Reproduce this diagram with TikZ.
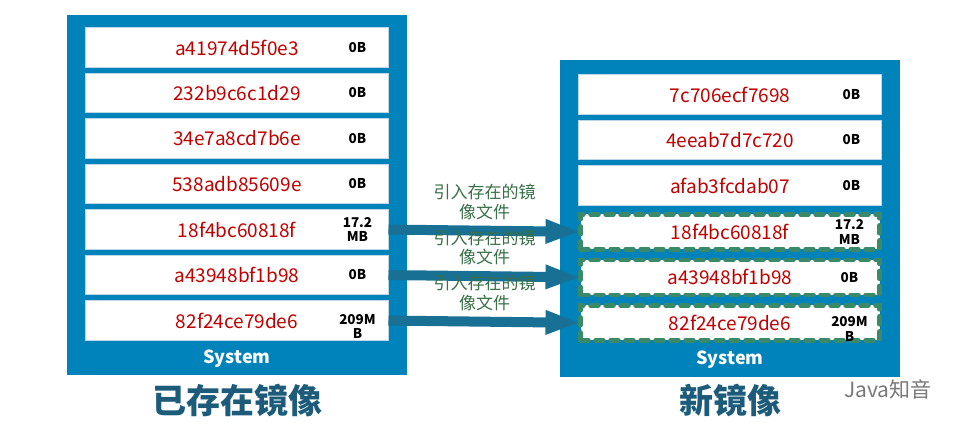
\documentclass[tikz,border=0pt]{standalone}
\usepackage{fontspec}
\setmainfont{Noto Sans CJK SC}
\usepackage{xcolor}
\usepackage{tikz}
\usetikzlibrary{
  arrows.meta,
  positioning,
  calc
}

\definecolor{boxblue}{RGB}{0,130,186}
\definecolor{rowedge}{RGB}{190,215,230}
\definecolor{hashred}{RGB}{192,0,0}
\definecolor{dashgreen}{RGB}{58,138,106}
\definecolor{arrowblue}{RGB}{24,112,148}
\definecolor{notegreen}{RGB}{56,112,72}
\definecolor{titleteal}{RGB}{28,92,122}
\definecolor{markgray}{RGB}{120,120,120}

\tikzset{
  imgbox/.style={fill=boxblue, minimum width=340pt, inner sep=0pt},
  layerbox/.style={draw=rowedge, fill=white, line width=0.8pt, minimum width=303pt,
    minimum height=39.5pt, inner sep=0pt, outer sep=0pt, text=hashred, font=\fontsize{19}{20}\selectfont},
  sharedbox/.style={layerbox, draw=dashgreen, line width=4.5pt, dash pattern=on 8pt off 7pt,
    line cap=round, minimum width=299pt, minimum height=35pt},
  sizetag/.style={font=\bfseries\fontsize{13.5}{14.5}\selectfont, align=center, inner sep=0pt},
  systag/.style={text=white, font=\bfseries\fontsize{18}{20}\selectfont, inner sep=0pt},
  titletag/.style={text=titleteal, font=\bfseries\fontsize{34}{36}\selectfont, inner sep=0pt},
  copyarrow/.style={draw=arrowblue, line width=10pt, -{Triangle[length=35pt 0,width=22pt 0]}},
  copynote/.style={text=notegreen, align=center, inner sep=0pt, font=\fontsize{17}{19.5}\selectfont}
}

\begin{document}
\begin{tikzpicture}[x=1pt,y=-1pt]
  \useasboundingbox[fill=white] (0,0) rectangle (970,432);

  % existing image
  \node[imgbox, minimum height=360pt] (oldimg) at (237,195) {};
  \node[layerbox, below=13pt of oldimg.north] (L1) {a41974d5f0e3};
  \node[layerbox, below=6pt of L1] (L2) {232b9c6c1d29};
  \node[layerbox, below=6pt of L2] (L3) {34e7a8cd7b6e};
  \node[layerbox, below=6pt of L3] (L4) {538adb85609e};
  \node[layerbox, below=6pt of L4] (L5) {18f4bc60818f};
  \node[layerbox, below=6pt of L5] (L6) {a43948bf1b98};
  \node[layerbox, below=6pt of L6] (L7) {82f24ce79de6};
  \node[sizetag] at ([xshift=-31pt]L1.east) {0B};
  \node[sizetag] at ([xshift=-31pt]L2.east) {0B};
  \node[sizetag] at ([xshift=-31pt]L3.east) {0B};
  \node[sizetag] at ([xshift=-31pt]L4.east) {0B};
  \node[sizetag] at ([xshift=-31pt]L5.east) {17.2\\MB};
  \node[sizetag] at ([xshift=-31pt]L6.east) {0B};
  \node[sizetag] at ([xshift=-31pt,yshift=-6pt]L7.east) {209M\\B};
  \node[systag] (oldsys) at ([yshift=17pt]oldimg.south) {System};
  \node[titletag] (oldtitle) at ([yshift=-25pt]oldimg.south) {已存在镜像};

  % new image
  \node[imgbox, minimum height=317pt] (newimg) at (730,218.5) {};
  \node[layerbox, below=15pt of newimg.north] (R1) {7c706ecf7698};
  \node[layerbox, below=6pt of R1] (R2) {4eeab7d7c720};
  \node[layerbox, below=6pt of R2] (R3) {afab3fcdab07};
  \node[sharedbox, below=9pt of R3] (R4) {18f4bc60818f};
  \node[sharedbox, below=10.5pt of R4] (R5) {a43948bf1b98};
  \node[sharedbox, below=10.5pt of R5] (R6) {82f24ce79de6};
  \node[sizetag] at ([xshift=-30pt]R1.east) {0B};
  \node[sizetag] at ([xshift=-30pt]R2.east) {0B};
  \node[sizetag] at ([xshift=-30pt]R3.east) {0B};
  \node[sizetag] at ([xshift=-30pt]R4.east) {17.2\\MB};
  \node[sizetag] at ([xshift=-30pt]R5.east) {0B};
  \node[sizetag] at ([xshift=-30pt,yshift=-6pt]R6.east) {209M\\B};
  \node[systag] (newsys) at ([yshift=18pt]newimg.south) {System};
  \node[titletag] (newtitle) at ([yshift=-23pt]newimg.south) {新镜像};

  % shared layers
  \draw[copyarrow] (L5.east) -- node[copynote, above=6pt] {引入存在的镜\\像文件} (R4.west);
  \draw[copyarrow] (L6.east) -- node[copynote, above=6pt] {引入存在的镜\\像文件} (R5.west);
  \draw[copyarrow] (L7.east) -- node[copynote, above=6pt] {引入存在的镜\\像文件} (R6.west);

  \node[text=markgray, font=\fontsize{21}{22}\selectfont, inner sep=0pt] (mark) at (888,389) {Java知音};
\end{tikzpicture}
\end{document}
